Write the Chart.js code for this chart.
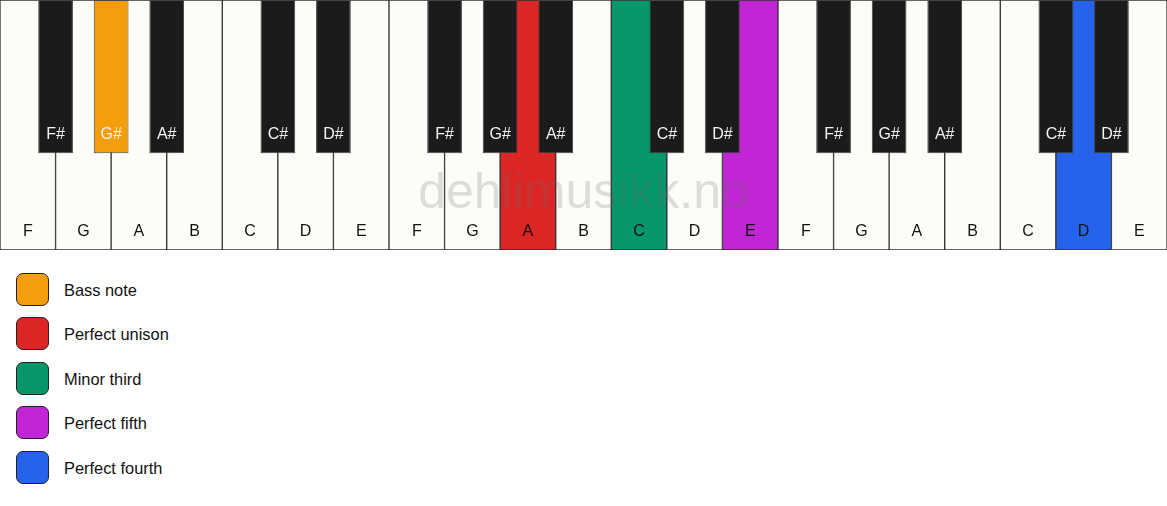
<!DOCTYPE html>
<html>
<head>
<meta charset="utf-8">
<script src="https://cdn.jsdelivr.net/npm/chart.js@4.4.1/dist/chart.umd.min.js"></script>
<style>
  html, body { margin: 0; padding: 0; background: #ffffff; }
  body { width: 1167px; height: 506px; position: relative; overflow: hidden;
         font-family: "Liberation Sans", Arial, sans-serif; }
  #wrap { position: absolute; left: 0; top: 0; width: 1167px; height: 250px; }
  #legend { position: absolute; left: 16px; top: 272px; }
  .item { position: absolute; left: 0; height: 34px; display: flex; align-items: center; white-space: nowrap; }
  .sw { width: 31px; height: 31px; border: 1.5px solid #222; border-radius: 7px; box-sizing: content-box; }
  .lbl { margin-left: 15px; font-size: 16.4px; color: #111; padding-top: 2px; }
</style>
</head>
<body>
<div id="wrap"><canvas id="c"></canvas></div>
<div id="legend"></div>
<script>
// ---- data ----
const whiteKeys = ['F','G','A','B','C','D','E','F','G','A','B','C','D','E','F','G','A','B','C','D','E'];
const blackKeys = ['F#','G#','A#','C#','D#','F#','G#','A#','C#','D#','F#','G#','A#','C#','D#'];
// index of the white key each black key follows
const blackAfter = [0,1,2,4,5,7,8,9,11,12,14,15,16,18,19];
const roles = ['Bass note','Perfect unison','Minor third','Perfect fifth','Perfect fourth'];
const roleColors = ['#F59E0B','#DC2626','#059669','#C026D3','#2563EB'];
// role index per key (null = not highlighted)
const whiteRoles = [null,null,null,null,null,null,null,null,null,1,null,2,null,3,null,null,null,null,null,4,null];
const blackRoles = [null,0,null,null,null,null,null,null,null,null,null,null,null,null,null];
const watermark = 'dehlimusikk.no';

// ---- build ----
const WHITE_FILL = '#FDFCF8';
const BLACK_FILL = '#1B1B1B';
const BLACK_DEPTH = 0.613;

const whiteData = whiteKeys.map((k, i) => ({ x: i + 0.5, y: [0, 1] }));
const blackData = blackKeys.map((k, i) => ({ x: blackAfter[i] + 1, y: [0, BLACK_DEPTH] }));
const whiteColors = whiteRoles.map(r => r === null ? WHITE_FILL : roleColors[r]);
const blackColors = blackRoles.map(r => r === null ? BLACK_FILL : roleColors[r]);

const labelPlugin = {
  id: 'keyLabels',
  afterDatasetsDraw(chart) {
    const ctx = chart.ctx;
    ctx.save();
    // watermark
    const xs = chart.scales.x;
    ctx.font = '50px "Liberation Sans", Arial, sans-serif';
    ctx.fillStyle = 'rgba(110,110,110,0.22)';
    ctx.textAlign = 'center';
    ctx.textBaseline = 'alphabetic';
    ctx.fillText(watermark, xs.getPixelForValue(10.5), chart.scales.y.getPixelForValue(0.832));
    ctx.font = '16px "Liberation Sans", Arial, sans-serif';
    ctx.textBaseline = 'middle';
    const wm = chart.getDatasetMeta(0);
    wm.data.forEach((el, i) => {
      const bottom = Math.max(el.y, el.base);
      ctx.fillStyle = '#111';
      ctx.fillText(whiteKeys[i], el.x, bottom - 18);
    });
    const bm = chart.getDatasetMeta(1);
    bm.data.forEach((el, i) => {
      const bottom = Math.max(el.y, el.base);
      ctx.fillStyle = '#F2F2F2';
      ctx.fillText(blackKeys[i], el.x, bottom - 19);
    });
    ctx.restore();
  }
};

new Chart(document.getElementById('c'), {
  type: 'bar',
  data: {
    datasets: [
      { data: whiteData, xAxisID: 'x', order: 2, backgroundColor: whiteColors, borderColor: '#333',
        borderWidth: 1, borderSkipped: false, barPercentage: 1, categoryPercentage: 1, grouped: false },
      { data: blackData, xAxisID: 'x2', order: 1, backgroundColor: blackColors, borderColor: '#444',
        borderWidth: 1, borderSkipped: false, barPercentage: 0.625, categoryPercentage: 1, grouped: false }
    ]
  },
  options: {
    responsive: true,
    maintainAspectRatio: false,
    animation: false,
    events: [],
    layout: { padding: 0 },
    plugins: { legend: { display: false }, tooltip: { enabled: false } },
    scales: {
      x: { type: 'linear', offset: false, min: 0, max: whiteKeys.length, display: false, ticks: { stepSize: 1 }, grid: { display: false } },
      x2: { type: 'linear', offset: false, min: 0, max: whiteKeys.length, display: false, ticks: { stepSize: 1 }, grid: { display: false } },
      y: { min: 0, max: 1, reverse: true, display: false, grid: { display: false } }
    }
  },
  plugins: [labelPlugin]
});

// legend
const lg = document.getElementById('legend');
roles.forEach((r, i) => {
  const d = document.createElement('div');
  d.className = 'item';
  d.style.top = (i * 44.5) + 'px';
  d.innerHTML = '<div class="sw" style="background:' + roleColors[i] + '"></div><div class="lbl">' + r + '</div>';
  lg.appendChild(d);
});
</script>
</body>
</html>
